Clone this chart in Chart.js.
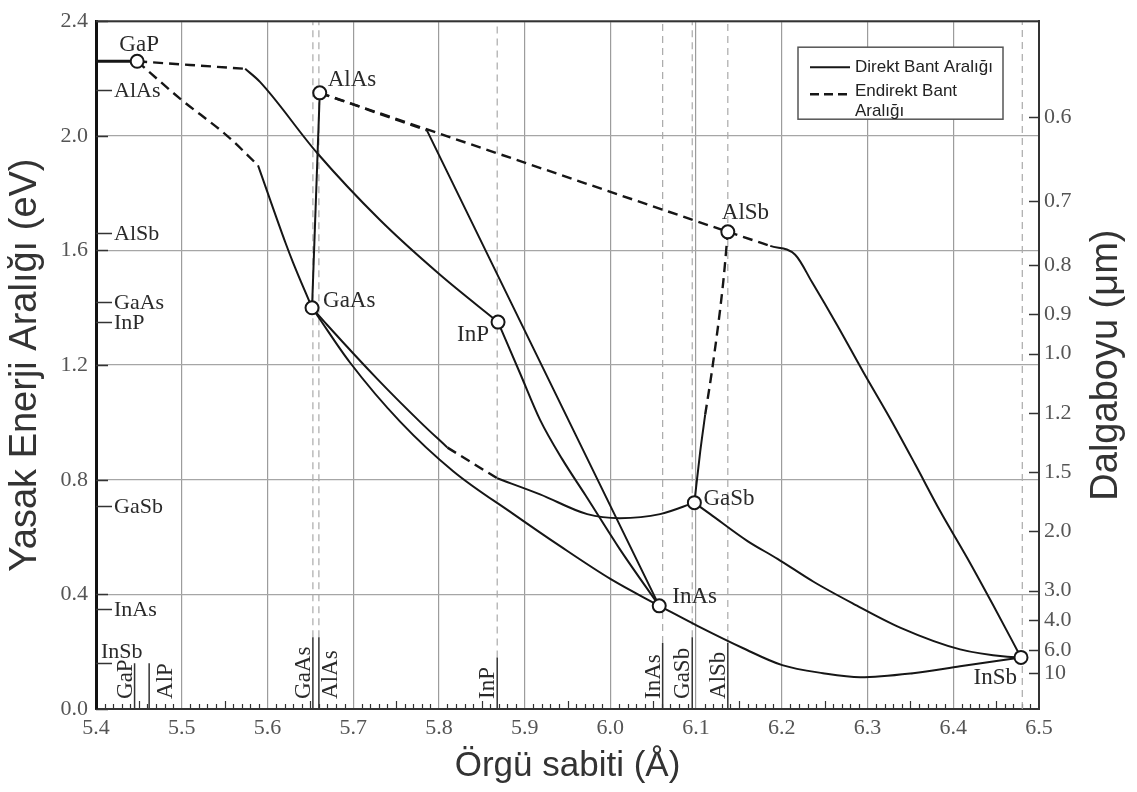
<!DOCTYPE html>
<html>
<head>
<meta charset="utf-8">
<title>Yasak enerji aralığı - örgü sabiti</title>
<script src="https://cdn.jsdelivr.net/npm/chart.js@4.4.0/dist/chart.umd.min.js"></script>
<style>
  html, body { margin: 0; padding: 0; background: #fff; }
  #wrap { width: 1137px; height: 792px; }
</style>
</head>
<body>
<div id="wrap"><canvas id="bandgapChart" width="1137" height="792"></canvas></div>
<script>
// binary compounds: [lattice constant (Å), band gap (eV)]
const binaryNames = ['GaP', 'AlAs', 'GaAs', 'InP', 'AlSb', 'GaSb', 'InAs', 'InSb'];
const binaryPoints = [[5.448, 2.26], [5.661, 2.15], [5.652, 1.40], [5.869, 1.35],
                      [6.137, 1.665], [6.098, 0.72], [6.057, 0.36], [6.479, 0.18]];

// ternary alloys, split into indirect (dashed) and direct (solid) parts
const gaAsP_ind = [[5.448, 2.26], [5.498, 2.13], [5.553, 2.00], [5.589, 1.897]];
const gaAsP_dir = [[5.589, 1.897], [5.621, 1.627], [5.630, 1.557], [5.652, 1.40]];
const gaInP_ind = [[5.448, 2.26], [5.574, 2.234]];
const gaInP_dir = [[5.574, 2.234], [5.591, 2.189], [5.658, 1.94], [5.731, 1.707], [5.801, 1.516], [5.869, 1.35]];
const alGaAs_dir = [[5.652, 1.40], [5.661, 2.15]];
const alAsSb_ind = [[5.661, 2.15], [6.137, 1.665]];
const alInAs_ind = [[5.661, 2.15], [5.786, 2.019]];
const alInAs_dir = [[5.786, 2.019], [6.057, 0.36]];
const inAsP_dir = [[5.869, 1.35], [5.895, 1.169], [5.918, 1.009], [5.944, 0.871], [5.971, 0.746], [6.011, 0.558], [6.057, 0.36]];
const gaInAs_dir = [[5.652, 1.40], [5.658, 1.374], [5.696, 1.21], [5.755, 1.002], [5.817, 0.829], [5.887, 0.68], [5.941, 0.569], [6.000, 0.454], [6.057, 0.36]];
const gaAsSb_dir1 = [[5.652, 1.40], [5.670, 1.339], [5.728, 1.152], [5.778, 1.002], [5.810, 0.912]];
const gaAsSb_ind = [[5.810, 0.912], [5.868, 0.805]];
const gaAsSb_dir2 = [[5.868, 0.805], [5.918, 0.749], [5.973, 0.68], [6.011, 0.666], [6.058, 0.68], [6.098, 0.72]];
const inAsSb_dir = [[6.057, 0.36], [6.101, 0.291], [6.155, 0.212], [6.2005, 0.153], [6.248, 0.125], [6.2915, 0.111], [6.353, 0.125], [6.408, 0.149], [6.479, 0.18]];
const gaInSb_dir = [[6.098, 0.72], [6.1165, 0.68], [6.160, 0.586], [6.195, 0.524], [6.237, 0.444], [6.283, 0.368], [6.338, 0.284], [6.408, 0.208], [6.463, 0.182], [6.479, 0.18]];
const alInSb_ind = [[6.137, 1.665], [6.1865, 1.616]];
const alInSb_dir = [[6.1865, 1.616], [6.2156, 1.585], [6.2355, 1.488], [6.2646, 1.339], [6.295, 1.176], [6.3265, 1.013], [6.3557, 0.853], [6.3848, 0.69], [6.4163, 0.527], [6.4455, 0.368], [6.479, 0.18]];
const alGaSb_dir = [[6.098, 0.72], [6.1048, 0.898], [6.1106, 1.027]];
const alGaSb_ind = [[6.1106, 1.027], [6.1188, 1.186], [6.1316, 1.488], [6.137, 1.665]];

// lattice constant markers along the bottom axis
const markerNames = ['GaP', 'AlP', 'GaAs', 'AlAs', 'InP', 'InAs', 'GaSb', 'AlSb', 'InSb'];
const markerLattice = [5.445, 5.462, 5.653, 5.660, 5.868, 6.061, 6.0955, 6.137, 6.4805];
const markerStemTop = [0.16, 0.16, 0.25, 0.25, 0.18, 0.23, 0.25, 0.23, 0];
const markerDashed = [false, false, true, true, true, true, true, true, true];

// band gap markers along the left axis
const gapTickNames = ['AlAs', 'AlSb', 'GaAs', 'InP', 'GaSb', 'InAs', 'InSb'];
const gapTickValues = [2.16, 1.66, 1.42, 1.35, 0.71, 0.35, 0.16];

// wavelength axis (µm), E = 1.24 / λ
const wavelengthTicks = [0.6, 0.7, 0.8, 0.9, 1.0, 1.2, 1.5, 2.0, 3.0, 4.0, 6.0, 10];
const wavelengthLabels = ['0.6', '0.7', '0.8', '0.9', '1.0', '1.2', '1.5', '2.0', '3.0', '4.0', '6.0', '10'];

const SERIF = "'Liberation Serif', 'Times New Roman', serif";
const SANS = "'Liberation Sans', Arial, sans-serif";
const INK = '#161616';

function toXY(points) {
    return points.map(p => ({ x: p[0], y: p[1] }));
}

function curve(points, dashed) {
    return {
        data: toXY(points),
        showLine: true,
        pointRadius: 0,
        borderColor: INK,
        borderWidth: dashed ? 2.4 : 2,
        borderDash: dashed ? [10, 6] : [],
        cubicInterpolationMode: 'monotone',
        order: 1
    };
}

const datasets = [];

// open circles for the binaries
datasets.push({
    data: toXY(binaryPoints),
    pointRadius: 6.5,
    pointBackgroundColor: '#fff',
    pointBorderColor: INK,
    pointBorderWidth: 2,
    showLine: false,
    clip: false,
    order: -1
});

[gaAsP_dir, gaInP_dir, alGaAs_dir, alInAs_dir, inAsP_dir, gaInAs_dir, gaAsSb_dir1, gaAsSb_dir2,
 inAsSb_dir, gaInSb_dir, alInSb_dir, alGaSb_dir].forEach(c => datasets.push(curve(c, false)));
[gaAsP_ind, gaInP_ind, alAsSb_ind, alInAs_ind, gaAsSb_ind, alInSb_ind, alGaSb_ind]
    .forEach(c => datasets.push(curve(c, true)));

markerLattice.forEach((lc, i) => {
    if (markerStemTop[i] > 0) {
        datasets.push({
            data: [{ x: lc, y: 0 }, { x: lc, y: markerStemTop[i] }],
            showLine: true, pointRadius: 0, borderColor: '#333', borderWidth: 1.5, order: 5
        });
    }
    if (markerDashed[i]) {
        datasets.push({
            data: [{ x: lc, y: markerStemTop[i] }, { x: lc, y: 2.4 }],
            showLine: true, pointRadius: 0, borderColor: '#a9a9a9', borderWidth: 1.2,
            borderDash: [7, 5], order: 5
        });
    }
});

// label placement around the circles: [dx, dy, align]
const pointLabelLayout = {
    GaP: [2, -16, 'center'], AlAs: [8, -13, 'left'], GaAs: [11, -7, 'left'], InP: [-9, 13, 'right'],
    AlSb: [-6, -19, 'left'], GaSb: [9, -4, 'left'], InAs: [13, -9, 'left'], InSb: [-4, 21, 'right']
};
// which side of the marker the rotated name sits on, and its gap
const markerLabelLayout = {
    GaP: ['left', 3], AlP: ['right', 5], GaAs: ['left', 3], AlAs: ['right', 1],
    InP: ['left', 3], InAs: ['left', 3], GaSb: ['left', 3], AlSb: ['left', 3]
};

const annotations = {
    id: 'annotations',
    beforeDatasetsDraw(chart) {
        const { ctx, chartArea: ca, scales: { x, y, y2 } } = chart;
        ctx.save();
        ctx.strokeStyle = '#333';
        ctx.lineWidth = 1.2;
        // minor ticks on the bottom axis
        for (let i = 1; i < 110; i++) {
            if (i % 10 === 0) continue;
            const px = Math.round(x.getPixelForValue(5.4 + i / 100)) + 0.5;
            const len = i % 5 === 0 ? 8 : 5;
            ctx.beginPath();
            ctx.moveTo(px, ca.bottom);
            ctx.lineTo(px, ca.bottom - len);
            ctx.stroke();
        }
        // inward ticks on the left and right axes
        ctx.lineWidth = 1.5;
        y.ticks.forEach(t => {
            const py = Math.round(y.getPixelForValue(t.value)) + 0.5;
            ctx.beginPath();
            ctx.moveTo(ca.left, py);
            ctx.lineTo(ca.left + 12, py);
            ctx.stroke();
        });
        y2.ticks.forEach(t => {
            const py = Math.round(y2.getPixelForValue(t.value)) + 0.5;
            ctx.beginPath();
            ctx.moveTo(ca.right, py);
            ctx.lineTo(ca.right - 10, py);
            ctx.stroke();
        });
        ctx.restore();
    },
    afterDatasetsDraw(chart) {
        const { ctx, chartArea: ca, scales: { x, y } } = chart;
        ctx.save();

        // frame top
        ctx.strokeStyle = '#333';
        ctx.lineWidth = 2;
        ctx.beginPath();
        ctx.moveTo(ca.left, ca.top);
        ctx.lineTo(ca.right, ca.top);
        ctx.stroke();

        ctx.fillStyle = '#2a2a2a';

        // GaP gap mark runs from the axis to its circle
        const gapIdx = binaryNames.indexOf('GaP');
        const gapY = y.getPixelForValue(binaryPoints[gapIdx][1]);
        ctx.strokeStyle = INK;
        ctx.lineWidth = 3;
        ctx.beginPath();
        ctx.moveTo(ca.left, gapY);
        ctx.lineTo(x.getPixelForValue(binaryPoints[gapIdx][0]) - 6, gapY);
        ctx.stroke();

        // band gap names on the left axis
        ctx.font = '22px ' + SERIF;
        ctx.lineWidth = 1.5;
        ctx.strokeStyle = '#333';
        gapTickNames.forEach((name, i) => {
            const py = Math.round(y.getPixelForValue(gapTickValues[i])) + 0.5;
            ctx.beginPath();
            ctx.moveTo(ca.left, py);
            ctx.lineTo(ca.left + 16, py);
            ctx.stroke();
            ctx.textAlign = 'left';
            ctx.textBaseline = 'middle';
            if (name === 'InSb') {
                ctx.fillText(name, ca.left + 5, py - 11);
            } else {
                ctx.fillText(name, ca.left + 18, py + 1);
            }
        });

        // rotated names beside the lattice markers
        ctx.font = '23px ' + SERIF;
        markerNames.forEach((name, i) => {
            const lay = markerLabelLayout[name];
            if (!lay) return;
            const px = x.getPixelForValue(markerLattice[i]);
            const py = y.getPixelForValue(0.035);
            ctx.save();
            ctx.translate(lay[0] === 'left' ? px - lay[1] : px + lay[1], py);
            ctx.rotate(-Math.PI / 2);
            ctx.textAlign = 'left';
            ctx.textBaseline = lay[0] === 'left' ? 'alphabetic' : 'top';
            ctx.fillText(name, 0, 0);
            ctx.restore();
        });

        // names next to the circles
        ctx.textBaseline = 'middle';
        binaryNames.forEach((name, i) => {
            const lay = pointLabelLayout[name];
            const px = x.getPixelForValue(binaryPoints[i][0]);
            const py = y.getPixelForValue(binaryPoints[i][1]);
            ctx.textAlign = lay[2];
            ctx.fillText(name, px + lay[0], py + lay[1]);
        });

        // legend
        const lx = ca.right - 241, ly = ca.top + 26, lw = 205, lh = 72;
        ctx.fillStyle = '#fff';
        ctx.fillRect(lx, ly, lw, lh);
        ctx.strokeStyle = '#555';
        ctx.lineWidth = 1.5;
        ctx.strokeRect(lx, ly, lw, lh);
        ctx.strokeStyle = INK;
        ctx.lineWidth = 2;
        ctx.beginPath();
        ctx.moveTo(lx + 12, ly + 20);
        ctx.lineTo(lx + 52, ly + 20);
        ctx.stroke();
        ctx.lineWidth = 2.4;
        ctx.setLineDash([9, 5]);
        ctx.beginPath();
        ctx.moveTo(lx + 12, ly + 47);
        ctx.lineTo(lx + 52, ly + 47);
        ctx.stroke();
        ctx.setLineDash([]);
        ctx.fillStyle = '#222';
        ctx.font = '17px ' + SANS;
        ctx.textAlign = 'left';
        ctx.textBaseline = 'middle';
        ctx.fillText('Direkt Bant Aralığı', lx + 57, ly + 20);
        ctx.fillText('Endirekt Bant', lx + 57, ly + 44);
        ctx.fillText('Aralığı', lx + 57, ly + 64);

        // right axis title reads upwards like the left one
        ctx.fillStyle = '#333';
        ctx.font = '38px ' + SANS;
        ctx.translate(1107, (ca.top + ca.bottom) / 2);
        ctx.rotate(-Math.PI / 2);
        ctx.textAlign = 'center';
        ctx.fillText('Dalgaboyu (μm)', 0, 0);
        ctx.restore();
    }
};

const tickFont = { family: SERIF, size: 22 };

new Chart(document.getElementById('bandgapChart').getContext('2d'), {
    type: 'scatter',
    data: { datasets: datasets },
    options: {
        responsive: false,
        animation: false,
        layout: { padding: { top: 17, left: 0, right: 0, bottom: 0 } },
        plugins: {
            legend: { display: false },
            tooltip: { enabled: false }
        },
        scales: {
            x: {
                type: 'linear',
                min: 5.4,
                max: 6.5,
                ticks: {
                    stepSize: 0.1,
                    autoSkip: false,
                    maxRotation: 0,
                    padding: 6,
                    color: '#555',
                    font: tickFont,
                    callback: v => v.toFixed(1)
                },
                grid: { color: '#9c9c9c', lineWidth: 1.2, drawTicks: false },
                border: { color: '#333', width: 2 },
                title: {
                    display: true,
                    text: 'Örgü sabiti (Å)',
                    color: '#333',
                    font: { family: SANS, size: 35 },
                    padding: { top: 0, bottom: 5 }
                },
                afterFit(axis) { axis.height = 83; }
            },
            y: {
                type: 'linear',
                position: 'left',
                min: 0,
                max: 2.4,
                ticks: {
                    stepSize: 0.4,
                    autoSkip: false,
                    padding: 8,
                    color: '#555',
                    font: tickFont,
                    callback: v => v.toFixed(1)
                },
                grid: { color: '#a6a6a6', lineWidth: 1.2, drawTicks: false },
                border: { color: '#111', width: 3 },
                title: {
                    display: true,
                    text: 'Yasak Enerji Aralığı (eV)',
                    color: '#333',
                    font: { family: SANS, size: 38 },
                    padding: { top: 3, bottom: 0 }
                },
                afterFit(axis) { axis.width = 96; }
            },
            y2: {
                type: 'linear',
                position: 'right',
                min: 0,
                max: 2.4,
                afterBuildTicks(axis) {
                    axis.ticks = wavelengthTicks.map(w => ({ value: 1.24 / w }));
                },
                ticks: {
                    autoSkip: false,
                    padding: 5,
                    color: '#555',
                    font: tickFont,
                    callback: (v, i) => wavelengthLabels[i]
                },
                grid: { drawOnChartArea: false, drawTicks: false },
                border: { color: '#333', width: 2 },
                afterFit(axis) { axis.width = 98; }
            }
        }
    },
    plugins: [annotations]
});
</script>
</body>
</html>
